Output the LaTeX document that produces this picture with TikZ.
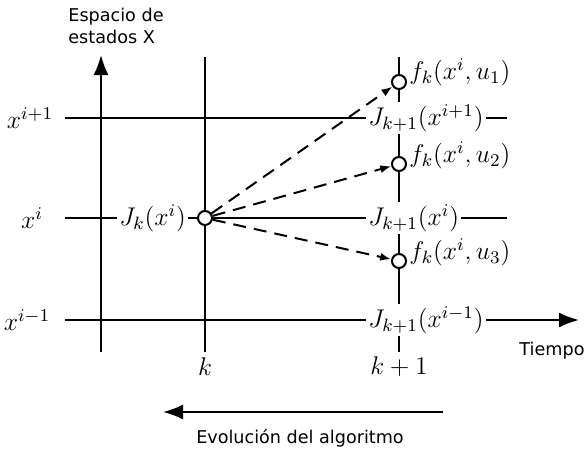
\RequirePackage{fix-cm}
\documentclass[tikz,border=0pt]{standalone}
\usepackage{fontspec}
\setsansfont{DejaVu Sans}
\usetikzlibrary{arrows.meta}
\begin{document}
\begin{tikzpicture}[x=0.5pt,y=-0.5pt,
  ln/.style={line width=1pt},
  big/.style={-{Latex[length=10pt,width=7.5pt]}},
  lbl/.style={font=\fontsize{12.8}{15}\selectfont, inner sep=1pt},
  wlbl/.style={lbl, fill=white, anchor=west},
  txt/.style={font=\sffamily\fontsize{8.8}{11}\selectfont, inner sep=0pt},
  dot/.style={circle, draw, fill=white, line width=1pt, minimum size=7pt, inner sep=0pt},
  dsh/.style={line width=1pt, dash pattern=on 6.5pt off 4pt, -{Latex[length=5.5pt,width=4pt]}}
]
\useasboundingbox (0,0) rectangle (585,450);
% coordinates
\coordinate (ybot) at (101,352);
\coordinate (ytop) at (101,55);
\coordinate (kt) at (205,57);
\coordinate (kb) at (205,352);
\coordinate (k1t) at (399,57);
\coordinate (k1b) at (399,352);
\coordinate (h1l) at (65,118);
\coordinate (h1r) at (507,118);
\coordinate (h2l) at (65,218);
\coordinate (h2r) at (507,218);
\coordinate (h3l) at (65,320);
\coordinate (h3r) at (579,320);
\coordinate (ev1) at (443,412);
\coordinate (ev2) at (163,412);
% lines
\draw[ln,big] (ybot) -- (ytop);
\draw[ln] (kb) -- (kt);
\draw[ln] (k1b) -- (k1t);
\draw[ln] (h1l) -- (h1r);
\draw[ln] (h2l) -- (h2r);
\draw[ln,big] (h3l) -- (h3r);
\draw[ln,big] (ev1) -- (ev2);
% text
\node[txt, align=left, anchor=west] (es) at (68,26) {Espacio de\\estados X};
\node[txt] (tt) at (552,351) {Tiempo};
\node[txt] (ev) at (300,438) {Evolución del algoritmo};
\node[lbl] (xa) at (30,118) {$x^{i+1}$};
\node[lbl] (xb) at (32,218) {$x^{i}$};
\node[lbl] (xc) at (27,320) {$x^{i-1}$};
\node[lbl] (kl) at (205,367) {$k$};
\node[lbl] (k1l) at (399,367) {$k+1$};
\node[wlbl] (Jk) at (117,218) {$J_k(x^i)$};
\node[wlbl] (Ja) at (366,118) {$J_{k+1}(x^{i+1})$};
\node[wlbl] (Jb) at (366,218) {$J_{k+1}(x^{i})$};
\node[wlbl] (Jc) at (366,320) {$J_{k+1}(x^{i-1})$};
\node[lbl, anchor=west] (fa) at (407,72) {$f_k(x^i,u_1)$};
\node[lbl, anchor=west] (fb) at (407,155) {$f_k(x^i,u_2)$};
\node[lbl, anchor=west] (fc) at (407,252) {$f_k(x^i,u_3)$};
% dots
\node[dot] (s) at (205,218) {};
\node[dot] (u1) at (399,82) {};
\node[dot] (u2) at (399,164) {};
\node[dot] (u3) at (399,261) {};
% dashed arrows
\draw[dsh] (s) -- (u1);
\draw[dsh] (s) -- (u2);
\draw[dsh] (s) -- (u3);
\end{tikzpicture}
\end{document}
